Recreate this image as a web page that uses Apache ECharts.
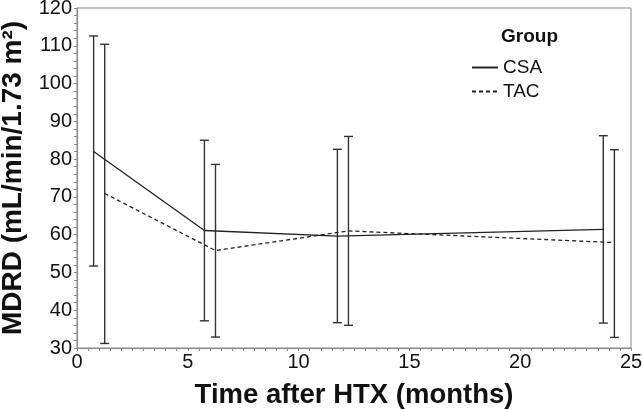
<!DOCTYPE html>
<html>
<head>
<meta charset="utf-8">
<script src="https://cdn.jsdelivr.net/npm/echarts@6/dist/echarts.min.js"></script>
<style>
html, body { margin: 0; padding: 0; background: #fff; }
#main { width: 642px; height: 410px; }
</style>
</head>
<body>
<div id="main"></div>
<script>
// time points (months), groups plotted slightly offset
var csaTime = [0.75, 5.75, 11.75, 23.75];
var tacTime = [1.25, 6.25, 12.25, 24.25];

// mean MDRD and error bar ends
var csaMean = [82.0, 61.1, 59.6, 61.4];
var csaLow = [51.7, 37.2, 36.7, 36.6];
var csaHigh = [112.6, 85.0, 82.6, 86.2];

var tacMean = [70.9, 55.8, 61.0, 57.9];
var tacLow = [31.2, 32.9, 36.0, 32.8];
var tacHigh = [110.4, 78.6, 86.0, 82.5];

var fontName = '"Liberation Sans", Arial, sans-serif';

function pairs(xs, ys) {
    var out = [];
    for (var i = 0; i < xs.length; i++) {
        out.push([xs[i], ys[i]]);
    }
    return out;
}

function bars(xs, lo, hi) {
    var out = [];
    for (var i = 0; i < xs.length; i++) {
        out.push([xs[i], lo[i], hi[i]]);
    }
    return out;
}

// vertical bar with caps at both ends
function renderBar(params, api) {
    var top = api.coord([api.value(0), api.value(2)]);
    var bot = api.coord([api.value(0), api.value(1)]);
    var w = 4.5;
    var style = { stroke: '#333', lineWidth: 1.4 };
    return {
        type: 'group',
        children: [
            { type: 'line', shape: { x1: top[0], y1: top[1], x2: bot[0], y2: bot[1] }, style: style },
            { type: 'line', shape: { x1: top[0] - w, y1: top[1], x2: top[0] + w, y2: top[1] }, style: style },
            { type: 'line', shape: { x1: bot[0] - w, y1: bot[1], x2: bot[0] + w, y2: bot[1] }, style: style }
        ]
    };
}

var chart = echarts.init(document.getElementById('main'));
chart.setOption({
    animation: false,
    backgroundColor: '#fff',
    title: {
        text: 'Group',
        left: 501,
        top: 27,
        padding: 0,
        textStyle: { fontFamily: fontName, fontSize: 19, fontWeight: 'bold', color: '#111' }
    },
    legend: {
        orient: 'vertical',
        left: 471,
        top: 58,
        padding: 0,
        itemWidth: 26,
        itemHeight: 14,
        itemGap: 5,
        data: ['CSA', 'TAC'],
        itemStyle: { color: 'transparent', borderWidth: 0, opacity: 0 },
        textStyle: { fontFamily: fontName, fontSize: 19, color: '#111' }
    },
    grid: {
        left: 77,
        right: 11,
        top: 8,
        bottom: 62,
        outerBoundsMode: 'none',
        show: true,
        borderColor: '#888',
        borderWidth: 1
    },
    xAxis: {
        type: 'value',
        min: 0,
        max: 25,
        interval: 5,
        name: 'Time after HTX (months)',
        nameLocation: 'middle',
        nameGap: 33,
        nameTextStyle: { fontFamily: fontName, fontSize: 27.5, fontWeight: 'bold', color: '#111' },
        axisLine: { show: true, lineStyle: { color: '#888' } },
        axisTick: { show: true, length: 3, lineStyle: { color: '#888' } },
        minorTick: { show: true, splitNumber: 10, length: 3, lineStyle: { color: '#888' } },
        splitLine: { show: false },
        axisLabel: { fontFamily: fontName, fontSize: 20, color: '#111', margin: 4 }
    },
    yAxis: {
        type: 'value',
        min: 30,
        max: 120,
        interval: 10,
        name: 'MDRD (mL/min/1.73 m\u00b2)',
        nameLocation: 'middle',
        nameGap: 49,
        nameTextStyle: { fontFamily: fontName, fontSize: 28, fontWeight: 'bold', color: '#111' },
        axisLine: { show: true, lineStyle: { color: '#888' } },
        axisTick: { show: true, length: 3, lineStyle: { color: '#888' } },
        minorTick: { show: true, splitNumber: 5, length: 3, lineStyle: { color: '#888' } },
        splitLine: { show: false },
        axisLabel: { fontFamily: fontName, fontSize: 20, color: '#111', margin: 5 }
    },
    series: [
        {
            name: 'CSA',
            type: 'line',
            data: pairs(csaTime, csaMean),
            symbol: 'none',
            lineStyle: { color: '#222', width: 1.3, type: 'solid' },
            itemStyle: { color: '#222' },
            z: 3
        },
        {
            name: 'TAC',
            type: 'line',
            data: pairs(tacTime, tacMean),
            symbol: 'none',
            lineStyle: { color: '#222', width: 1.3, type: [4, 3] },
            itemStyle: { color: '#222' },
            z: 3
        },
        {
            name: 'CSA range',
            type: 'custom',
            renderItem: renderBar,
            data: bars(csaTime, csaLow, csaHigh),
            encode: { x: 0, y: [1, 2] },
            z: 2
        },
        {
            name: 'TAC range',
            type: 'custom',
            renderItem: renderBar,
            data: bars(tacTime, tacLow, tacHigh),
            encode: { x: 0, y: [1, 2] },
            z: 2
        }
    ]
});
</script>
</body>
</html>
